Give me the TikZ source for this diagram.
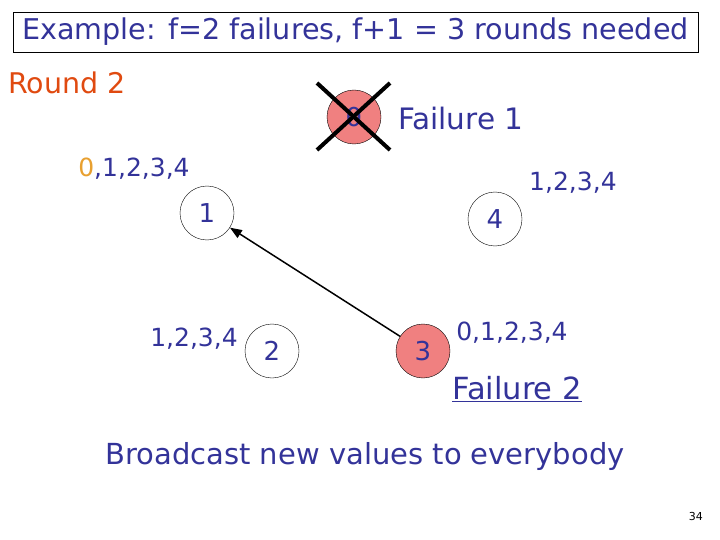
\documentclass[tikz,border=0pt]{standalone}
\usepackage{fontspec}
\setmainfont{DejaVu Sans}
\usetikzlibrary{arrows.meta}
\definecolor{txtblue}{RGB}{51,51,153}
\definecolor{nodepink}{RGB}{240,128,128}
\definecolor{roundred}{RGB}{224,74,16}
\definecolor{zeroorange}{RGB}{232,160,48}
\tikzset{
  proc/.style={circle,draw=black,thin,minimum size=54pt,inner sep=0pt,text=txtblue,font=\fontsize{26}{28}\selectfont},
  failed/.style={proc,fill=nodepink},
  lbl/.style={text=txtblue,font=\fontsize{25}{28}\selectfont,inner sep=0pt},
  msg/.style={-{Triangle[length=12pt,width=9pt]},line width=1.5pt}
}
\begin{document}
\begin{tikzpicture}[x=1pt,y=-1pt]
\useasboundingbox (0,0) rectangle (720,540);
\node[draw=black,thin,minimum width=685pt,minimum height=40pt,inner sep=0pt,text=txtblue,font=\fontsize{28.6}{30}\selectfont] (title) at (355.5,32) {Example: f=2 failures, f+1 = 3 rounds needed};
\node[anchor=west,text=roundred,font=\fontsize{28.5}{30}\selectfont,inner sep=0pt] (round) at (8,83) {Round 2};
\node[failed] (n0) at (354,117) {0};
\draw[line width=4pt] (317,83) -- (390,150);
\draw[line width=4pt] (390,83) -- (317,150);
\node[lbl,anchor=west,font=\fontsize{29.5}{32}\selectfont] (f1) at (398,119) {Failure 1};
\node[proc] (n1) at (207,213) {1};
\node[proc] (n4) at (495,219) {4};
\node[proc] (n2) at (272,351) {2};
\node[failed] (n3) at (423,351) {3};
\draw[msg] (n3) -- (n1);
\node[lbl] (l1) at (134,169) {\textcolor{zeroorange}{0},1,2,3,4};
\node[lbl,anchor=west] (l4) at (529,183) {1,2,3,4};
\node[lbl] (l2) at (194,339) {1,2,3,4};
\node[lbl] (l3) at (512,333) {0,1,2,3,4};
\node[lbl,font=\fontsize{30.5}{32}\selectfont] (f2) at (517,389) {\underline{Failure 2}};
\node[lbl,font=\fontsize{29}{32}\selectfont] (bc) at (365,456) {Broadcast new values to everybody};
\node[anchor=east,font=\fontsize{11}{13}\selectfont,inner sep=0pt] (pg) at (703,516) {34};
\end{tikzpicture}
\end{document}
